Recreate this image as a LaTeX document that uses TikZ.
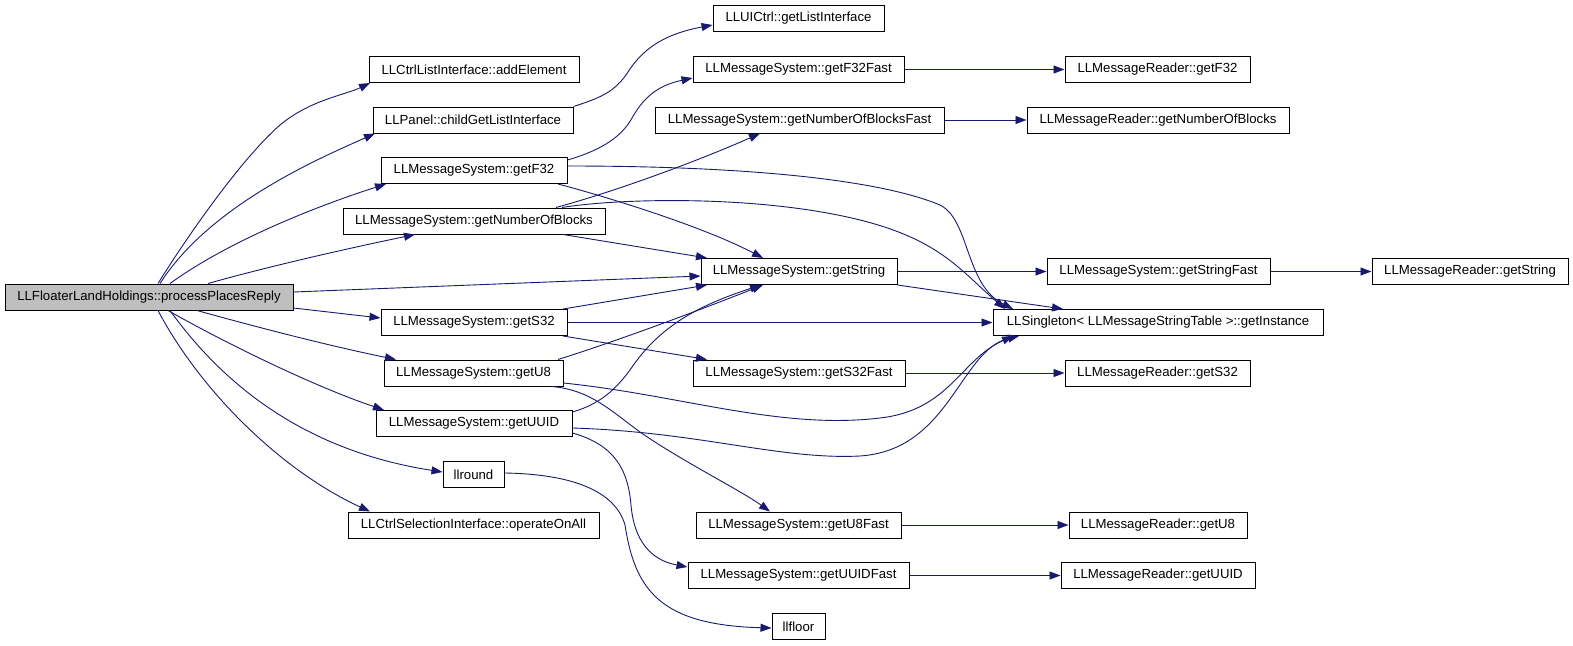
\documentclass[tikz,border=0pt]{standalone}
\usepackage{fontspec}
\setmainfont{Liberation Sans}
\usetikzlibrary{arrows.meta}
\definecolor{edgec}{HTML}{191970}
\definecolor{maingray}{HTML}{BFBFBF}
\begin{document}
\begin{tikzpicture}[x=1pt,y=-1pt,
  box/.style={draw=black, line width=1pt, fill=white, rectangle, inner sep=0pt,
    minimum height=26pt, font=\fontsize{13.2}{15}\selectfont},
  e/.style={draw=edgec, line width=0.9pt, -{Triangle[length=11pt,width=8pt]}}]
\useasboundingbox (0,0) rectangle (1573,645);
\fill[white] (0,0) rectangle (1573,645);
% column 1
\node[box, fill=maingray, minimum width=288pt] (main) at (149,297) {LLFloaterLandHoldings::processPlacesReply};
\node[box, minimum width=210pt] (addElement) at (474,69.5) {LLCtrlListInterface::addElement};
\node[box, minimum width=200pt] (childGLI) at (473,120) {LLPanel::childGetListInterface};
\node[box, minimum width=186pt] (getF32) at (474,170.5) {LLMessageSystem::getF32};
\node[box, minimum width=262pt] (getNOB) at (474,221) {LLMessageSystem::getNumberOfBlocks};
\node[box, minimum width=186pt] (getS32) at (474,322.5) {LLMessageSystem::getS32};
\node[box, minimum width=179pt] (getU8) at (473.5,373) {LLMessageSystem::getU8};
\node[box, minimum width=196pt] (getUUID) at (474,423.5) {LLMessageSystem::getUUID};
\node[box, minimum width=61pt] (llround) at (473.5,474.5) {llround};
\node[box, minimum width=251pt] (operateOnAll) at (473.5,525) {LLCtrlSelectionInterface::operateOnAll};
% column 2
\node[box, minimum width=171pt] (LLUICtrl) at (798.5,18.5) {LLUICtrl::getListInterface};
\node[box, minimum width=211pt] (getF32Fast) at (798.5,69.5) {LLMessageSystem::getF32Fast};
\node[box, minimum width=289pt] (getNOBFast) at (799.5,120) {LLMessageSystem::getNumberOfBlocksFast};
\node[box, minimum width=196pt] (getString) at (799,271.5) {LLMessageSystem::getString};
\node[box, minimum width=212pt] (getS32Fast) at (799,373) {LLMessageSystem::getS32Fast};
\node[box, minimum width=205pt] (getU8Fast) at (798.5,525) {LLMessageSystem::getU8Fast};
\node[box, minimum width=221pt] (getUUIDFast) at (798.5,575.5) {LLMessageSystem::getUUIDFast};
\node[box, minimum width=53pt] (llfloor) at (798.5,626.5) {llfloor};
% column 3
\node[box, minimum width=185pt] (rdF32) at (1157.5,69.5) {LLMessageReader::getF32};
\node[box, minimum width=262pt] (rdNOB) at (1158,120) {LLMessageReader::getNumberOfBlocks};
\node[box, minimum width=223pt] (getStringFast) at (1158.5,271.5) {LLMessageSystem::getStringFast};
\node[box, minimum width=330pt] (single) at (1158,322.5) {LLSingleton< LLMessageStringTable >::getInstance};
\node[box, minimum width=185pt] (rdS32) at (1157.5,373) {LLMessageReader::getS32};
\node[box, minimum width=178pt] (rdU8) at (1158,525) {LLMessageReader::getU8};
\node[box, minimum width=194pt] (rdUUID) at (1158,575.5) {LLMessageReader::getUUID};
% column 4
\node[box, minimum width=196pt] (rdString) at (1470,271.5) {LLMessageReader::getString};
% edges from main
\draw[e] (158,0 |- main.north) .. controls (185,240) and (240,160) .. (280,125) .. controls (310,100) and (345,95) .. (370,0 |- addElement.south);
\draw[e] (160,0 |- main.north) .. controls (210,205) and (320,158) .. (375,0 |- childGLI.south);
\draw[e] (170,0 |- main.north) .. controls (230,240) and (320,205) .. (386,0 |- getF32.south);
\draw[e] (208,0 |- main.north) .. controls (270,266) and (350,248) .. (415,0 |- getNOB.south);
\draw[e] (main.east |- 0,292) -- (getString.west |- 0,276);
\draw[e] (main.east |- 0,308) -- (getS32.west |- 0,318);
\draw[e] (197,0 |- main.south) .. controls (260,328) and (330,346) .. (396,0 |- getU8.north);
\draw[e] (168,0 |- main.south) .. controls (220,340) and (310,385) .. (384,0 |- getUUID.north);
\draw[e] (170,0 |- main.south) .. controls (220,380) and (300,450) .. (llround.west |- 0,472);
\draw[e] (158,0 |- main.south) .. controls (200,390) and (280,470) .. (370,0 |- operateOnAll.north);
% second level
\draw[e] (childGLI.north east) .. controls (600,98) and (615,92) .. (628,72) .. controls (645,45) and (670,33) .. (LLUICtrl.west |- 0,25);
\draw[e] (getF32.east |- 0,160) .. controls (595,152) and (620,140) .. (632,118) .. controls (645,95) and (660,85) .. (getF32Fast.west |- 0,78);
\draw[e] (getF32.east |- 0,166) .. controls (750,166) and (880,180) .. (940,205) .. controls (970,220) and (965,285) .. (1013,0 |- single.north);
\draw[e] (562,0 |- getNOB.north) .. controls (620,198) and (760,195) .. (860,220) .. controls (940,240) and (960,270) .. (1005,0 |- single.north);
\draw[e] (558,0 |- getF32.south) .. controls (600,195) and (700,225) .. (763,0 |- getString.north);
\draw[e] (556,0 |- getNOB.north) .. controls (620,190) and (700,160) .. (760,0 |- getNOBFast.south);
\draw[e] (563,0 |- getNOB.south) -- (707,0 |- getString.north);
\draw[e] (563,0 |- getS32.north) -- (707,0 |- getString.south);
\draw[e] (getS32.east) -- (single.west);
\draw[e] (563,0 |- getS32.south) -- (707,0 |- getS32Fast.north);
\draw[e] (558,0 |- getU8.north) .. controls (620,340) and (700,310) .. (763,0 |- getString.south);
\draw[e] (getUUID.east |- 0,412) .. controls (600,404) and (615,390) .. (630,370) .. controls (660,325) and (700,305) .. (761,0 |- getString.south);
\draw[e] (getU8.east |- 0,383) .. controls (680,395) and (780,430) .. (880,418) .. controls (950,410) and (960,360) .. (1013,0 |- single.south);
\draw[e] (getUUID.east |- 0,428) .. controls (700,432) and (780,460) .. (860,456) .. controls (950,450) and (960,350) .. (1019,0 |- single.south);
\draw[e] (552,0 |- getU8.south) .. controls (590,390) and (610,410) .. (640,432) .. controls (680,460) and (740,490) .. (770,0 |- getU8Fast.north);
\draw[e] (getUUID.east |- 0,433) .. controls (615,445) and (628,470) .. (631,505) .. controls (634,540) and (650,560) .. (getUUIDFast.west |- 0,567);
\draw[e] (llround.east |- 0,473) .. controls (570,474) and (615,490) .. (625,525) .. controls (635,590) and (660,625) .. (llfloor.west |- 0,628);
% third level
\draw[e] (getString.east) -- (getStringFast.west);
\draw[e] (getString.south east) -- (1063,0 |- single.north);
\draw[e] (getStringFast.east) -- (rdString.west);
\draw[e] (getF32Fast.east) -- (rdF32.west);
\draw[e] (getNOBFast.east) -- (rdNOB.west);
\draw[e] (getS32Fast.east) -- (rdS32.west);
\draw[e] (getU8Fast.east) -- (rdU8.west);
\draw[e] (getUUIDFast.east) -- (rdUUID.west);
\end{tikzpicture}
\end{document}
